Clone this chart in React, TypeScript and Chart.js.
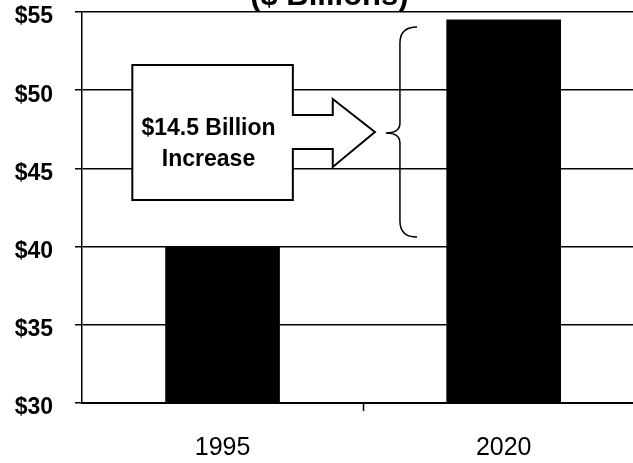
import React, { useEffect, useRef } from 'react';
import { Chart, registerables } from 'chart.js';

Chart.register(...registerables);

const categories = ['1995', '2020'];
const values = [40, 54.5];
const yTicks = [30, 35, 40, 45, 50, 55];
const titleText = '($ Billions)';
const calloutLines = ['$14.5 Billion', 'Increase'];

const FONT = '"Liberation Sans", Arial, Helvetica, sans-serif';

const titlePlugin = {
  id: 'cutTitle',
  afterDraw(chart: any) {
    const { ctx, scales } = chart;
    const x = scales.x;
    ctx.save();
    ctx.fillStyle = '#000';
    ctx.font = `bold 31px ${FONT}`;
    ctx.textAlign = 'center';
    ctx.textBaseline = 'alphabetic';
    ctx.fillText(titleText, x.getPixelForValue(1.38), chart.chartArea.top - 7);
    ctx.restore();
  },
};

const calloutPlugin = {
  id: 'callout',
  afterDatasetsDraw(chart: any) {
    const { ctx, scales } = chart;
    const X = (v: number) => scales.x.getPixelForValue(v);
    const Y = (v: number) => scales.y.getPixelForValue(v);
    ctx.save();
    // box with arrow
    ctx.beginPath();
    ctx.moveTo(X(0.679), Y(51.61));
    ctx.lineTo(X(1.25), Y(51.61));
    ctx.lineTo(X(1.25), Y(48.41));
    ctx.lineTo(X(1.392), Y(48.41));
    ctx.lineTo(X(1.392), Y(49.44));
    ctx.lineTo(X(1.542), Y(47.33));
    ctx.lineTo(X(1.392), Y(45.09));
    ctx.lineTo(X(1.392), Y(46.24));
    ctx.lineTo(X(1.25), Y(46.24));
    ctx.lineTo(X(1.25), Y(42.98));
    ctx.lineTo(X(0.679), Y(42.98));
    ctx.closePath();
    ctx.fillStyle = '#fff';
    ctx.fill();
    ctx.lineWidth = 2;
    ctx.strokeStyle = '#000';
    ctx.lineJoin = 'miter';
    ctx.stroke();

    // callout text
    ctx.fillStyle = '#000';
    ctx.font = `bold 23px ${FONT}`;
    ctx.textAlign = 'center';
    ctx.textBaseline = 'alphabetic';
    ctx.fillText(calloutLines[0], X(0.95), Y(47.14));
    ctx.fillText(calloutLines[1], X(0.95), Y(45.15));

    // brace
    const bx = X(1.631);
    const cx = X(1.581);
    const ex = X(1.692);
    ctx.beginPath();
    ctx.moveTo(ex, Y(54.04));
    ctx.quadraticCurveTo(bx, Y(54.04), bx, Y(53.02));
    ctx.lineTo(bx, Y(47.9));
    ctx.quadraticCurveTo(bx, Y(47.26), cx, Y(47.26));
    ctx.quadraticCurveTo(bx, Y(47.26), bx, Y(46.62));
    ctx.lineTo(bx, Y(41.64));
    ctx.quadraticCurveTo(bx, Y(40.61), ex, Y(40.61));
    ctx.lineWidth = 1.5;
    ctx.stroke();
    ctx.restore();
  },
};

export default function App() {
  const canvasRef = useRef<HTMLCanvasElement | null>(null);

  useEffect(() => {
    const canvas = canvasRef.current;
    if (!canvas) return;
    const chart: any = new Chart(canvas, {
      type: 'bar',
      data: {
        datasets: [
          {
            data: values.map((v, i) => ({ x: i + 1, y: v })),
            backgroundColor: '#000',
            borderWidth: 0,
            barThickness: 114,
          },
        ],
      },
      options: {
        responsive: false,
        animation: false,
        layout: { padding: { top: 12, right: 0, left: 0, bottom: 0 } },
        plugins: {
          legend: { display: false },
          tooltip: { enabled: false },
          title: { display: false },
        },
        scales: {
          x: {
            type: 'linear',
            offset: false,
            min: 0.5,
            max: 2.46,
            afterBuildTicks: (s: any) => {
              s.ticks = [1, 1.5, 2].map((v) => ({ value: v }));
            },
            afterFit: (s: any) => {
              s.height = 60;
              s.paddingLeft = 0;
              s.paddingRight = 0;
            },
            grid: {
              offset: false,
              drawOnChartArea: false,
              drawTicks: true,
              tickLength: 8,
              tickWidth: 1.5,
              tickColor: (c: any) =>
                c.tick && c.tick.value === 1.5 ? '#000' : 'rgba(0,0,0,0)',
            },
            border: { display: true, color: '#000', width: 2 },
            ticks: {
              color: '#000',
              padding: 22,
              maxRotation: 0,
              autoSkip: false,
              font: { family: FONT, size: 25, weight: 'normal', lineHeight: 1.2 },
              callback: (v: any) =>
                Number.isInteger(v) ? categories[v - 1] : '',
            },
          },
          y: {
            min: 30,
            max: 55,
            afterBuildTicks: (s: any) => {
              s.ticks = yTicks.map((v) => ({ value: v }));
            },
            afterFit: (s: any) => {
              s.width = 82;
              s.paddingTop = 0;
              s.paddingBottom = 0;
            },
            grid: {
              color: '#000',
              lineWidth: 1.5,
              drawTicks: true,
              tickLength: 7,
            },
            border: { display: true, color: '#000', width: 1.5 },
            ticks: {
              color: '#000',
              padding: 22,
              labelOffset: 5,
              font: { family: FONT, size: 23, weight: 'bold', lineHeight: 1.0 },
              callback: (v: any) => '$' + v,
            },
          },
        },
      },
      plugins: [calloutPlugin, titlePlugin],
    } as any);
    return () => chart.destroy();
  }, []);

  return (
    <div style={{ position: 'absolute', left: 0, top: 0, width: 633, height: 463, background: '#fff' }}>
      <canvas ref={canvasRef} width={633} height={463} style={{ display: 'block' }} />
    </div>
  );
}
